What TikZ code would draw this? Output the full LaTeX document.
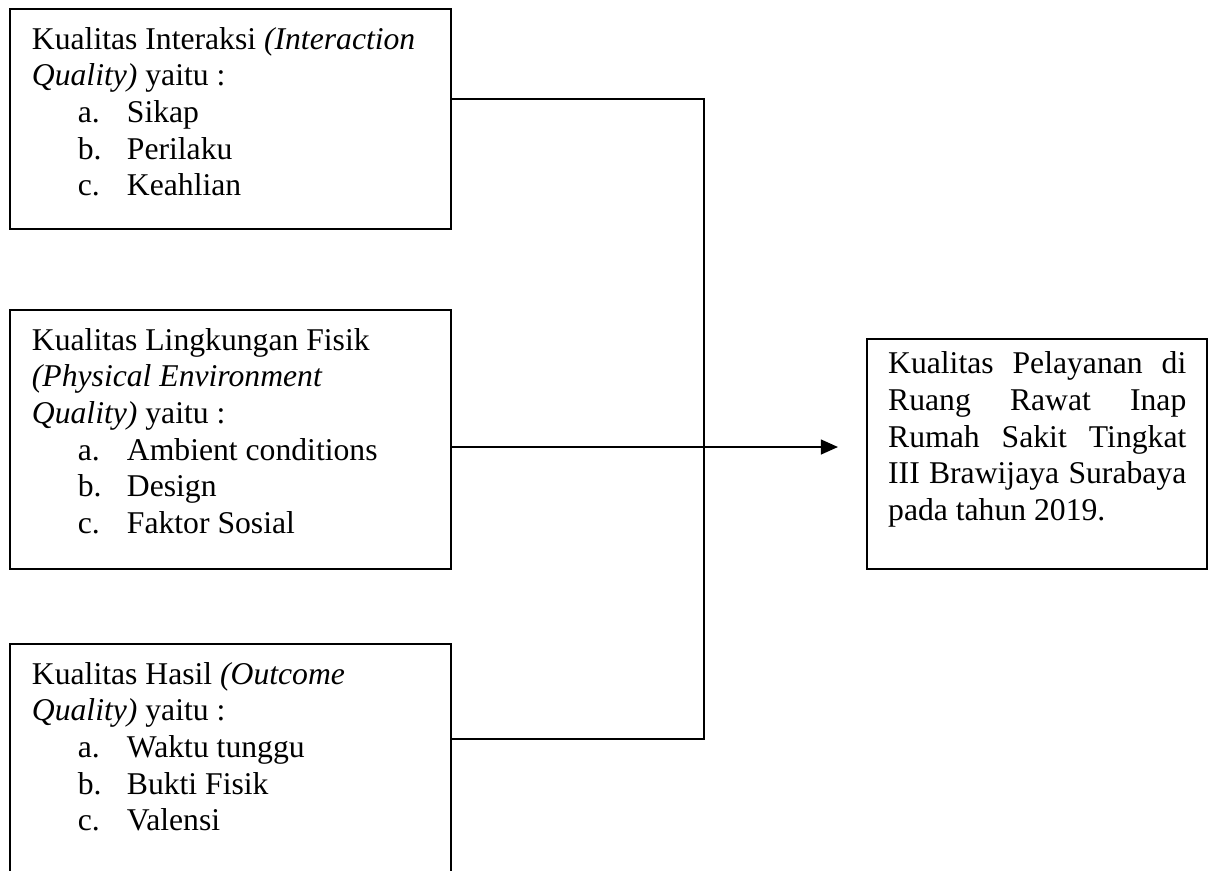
\documentclass[tikz,border=0pt]{standalone}
\usepackage{fontspec}
\setmainfont{Liberation Serif}
\usetikzlibrary{arrows.meta, positioning}
\newcommand{\butir}[2]{\hspace*{17.4pt}\makebox[18.6pt][l]{#1}#2}

\begin{document}
\begin{tikzpicture}[
  x=0.379pt, y=-0.379pt,
  kotak/.style={draw, line width=0.8pt, anchor=north west, inner xsep=8.3pt, inner ysep=0pt, font=\fontsize{12}{13.9}\selectfont},
  garis/.style={line width=0.8pt},
  arr/.style={-{Triangle[length=6.5pt, width=5.6pt]}, line width=0.8pt}
]
\path[use as bounding box, clip] (0,0) rectangle (1208,870);

\node[kotak] (interaksi) at (9,8) {\parbox[t][83.4pt][t]{150.5pt}{\raggedright\rule{0pt}{15.2pt}Kualitas Interaksi \textit{(Interaction}\\
  \textit{Quality)} yaitu :\\
  \butir{a.}{Sikap}\\
  \butir{b.}{Perilaku}\\
  \butir{c.}{Keahlian}}};
\node[kotak] (fisik) at (9,309) {\parbox[t][98.2pt][t]{150.5pt}{\raggedright\rule{0pt}{15.2pt}Kualitas Lingkungan Fisik\\
  \textit{(Physical Environment}\\
  \textit{Quality)} yaitu :\\
  \butir{a.}{Ambient conditions}\\
  \butir{b.}{Design}\\
  \butir{c.}{Faktor Sosial}}};
\node[kotak] (hasil) at (9,643) {\parbox[t][102.3pt][t]{150.5pt}{\raggedright\rule{0pt}{15.2pt}Kualitas Hasil \textit{(Outcome}\\
  \textit{Quality)} yaitu :\\
  \butir{a.}{Waktu tunggu}\\
  \butir{b.}{Bukti Fisik}\\
  \butir{c.}{Valensi}}};

\node[kotak, inner xsep=8pt] (layanan) at (866,338) {\parbox[t][87.2pt][t]{113pt}{\rule{0pt}{13.2pt}Kualitas Pelayanan di\linebreak
  Ruang Rawat Inap\linebreak
  Rumah Sakit Tingkat\linebreak
  III Brawijaya Surabaya\linebreak
  pada tahun 2019.}};

\coordinate (atas) at (704,99);
\coordinate (bawah) at (704,739);
\coordinate (ujung) at (838,447);

\draw[garis] (interaksi.east |- atas) -- (atas) -- (bawah) -- (hasil.east |- bawah);
\draw[arr] (fisik.east |- ujung) -- (ujung);
\end{tikzpicture}
\end{document}
